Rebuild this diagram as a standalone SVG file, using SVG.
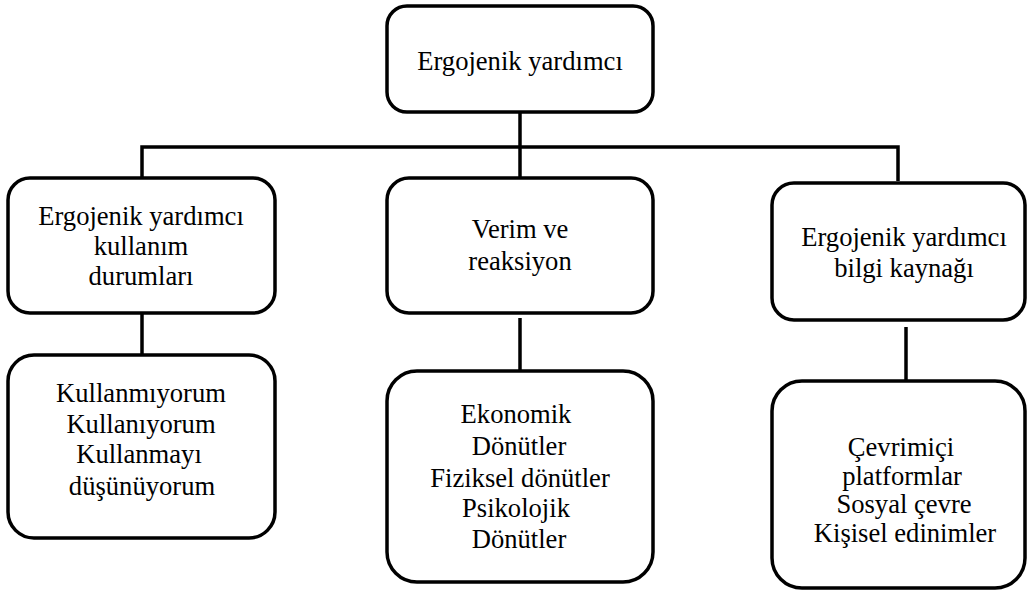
<svg xmlns="http://www.w3.org/2000/svg" width="1028" height="592" viewBox="0 0 1028 592">
<style>
.box{fill:#fff;stroke:#000;stroke-width:3.5}
.ln{fill:none;stroke:#000;stroke-width:3.5}
.t{font-family:'Liberation Serif','Times New Roman',Tinos,serif;font-size:26.6px;fill:#000;text-anchor:middle}
</style>
<rect width="1028" height="592" fill="#fff"/>
<g id="connectors">
<line class="ln" x1="520" y1="113" x2="520" y2="178"/>
<polyline class="ln" points="142,178 142,147 898,147 898,181"/>
<line class="ln" x1="142" y1="313" x2="142" y2="355"/>
<line class="ln" x1="520" y1="318" x2="520" y2="371"/>
<line class="ln" x1="906" y1="327" x2="906" y2="381"/>
</g>
<g id="n0">
<rect class="box" x="387" y="6" width="266" height="106" rx="20"/>
<text class="t" x="520" y="70">Ergojenik yardımcı</text>
</g>
<g id="n1">
<rect class="box" x="8" y="178" width="267" height="135" rx="22"/>
<text class="t" x="141" y="225">Ergojenik yardımcı</text>
<text class="t" x="141" y="255">kullanım</text>
<text class="t" x="141" y="285">durumları</text>
</g>
<g id="n2">
<rect class="box" x="387" y="178" width="266" height="135" rx="22"/>
<text class="t" x="520" y="238">Verim ve</text>
<text class="t" x="520" y="270">reaksiyon</text>
</g>
<g id="n3">
<rect class="box" x="772" y="183" width="253" height="137" rx="22"/>
<text class="t" x="904" y="246">Ergojenik yardımcı</text>
<text class="t" x="904" y="277">bilgi kaynağı</text>
</g>
<g id="n4">
<rect class="box" x="8" y="355" width="267" height="183" rx="26"/>
<text class="t" x="141" y="402">Kullanmıyorum</text>
<text class="t" x="141" y="433">Kullanıyorum</text>
<text class="t" x="139" y="463">Kullanmayı</text>
<text class="t" x="142" y="495">düşünüyorum</text>
</g>
<g id="n5">
<rect class="box" x="387" y="371" width="266" height="211" rx="30"/>
<text class="t" x="516" y="423">Ekonomik</text>
<text class="t" x="519" y="455">Dönütler</text>
<text class="t" x="520" y="487">Fiziksel dönütler</text>
<text class="t" x="516" y="517">Psikolojik</text>
<text class="t" x="519" y="548">Dönütler</text>
</g>
<g id="n6">
<rect class="box" x="772" y="381" width="253" height="207" rx="30"/>
<text class="t" x="901" y="456">Çevrimiçi</text>
<text class="t" x="902" y="485">platformlar</text>
<text class="t" x="904" y="513">Sosyal çevre</text>
<text class="t" x="905" y="542">Kişisel edinimler</text>
</g>
</svg>
